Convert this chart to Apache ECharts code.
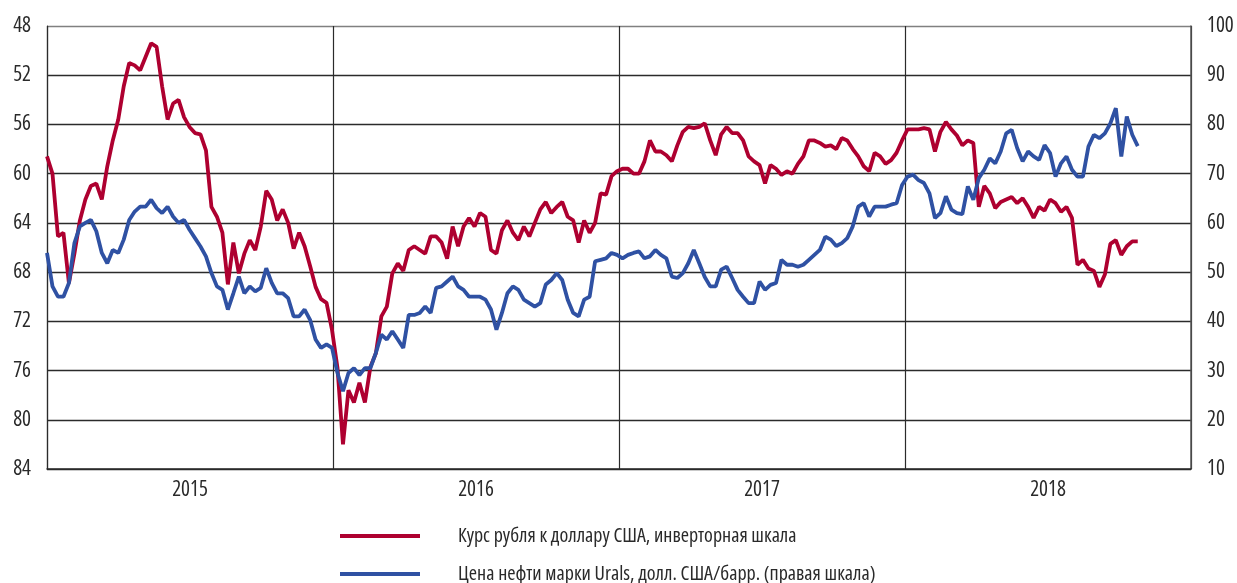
<!DOCTYPE html>
<html>
<head>
<meta charset="utf-8">
<script src="https://cdn.jsdelivr.net/npm/echarts@6/dist/echarts.min.js"></script>
<style>
  html, body { margin: 0; padding: 0; background: #fff; }
  #chart { width: 1237px; height: 583px; }
</style>
</head>
<body>
<div id="chart"></div>
<script>
// weekly observations starting 1 Jan 2015
const startYear = 2015;
const yearLabels = ['2015', '2016', '2017', '2018'];

// курс рубля, руб./долл. (левая шкала, инвертирована)
const rubRate = [
  58.6, 60.0, 65.1, 64.8, 68.9, 66.5, 63.8, 62.1, 61.0, 60.8,
  62.1, 59.4, 57.3, 55.6, 52.9, 51.0, 51.2, 51.6, 50.5, 49.4,
  49.7, 52.9, 55.6, 54.3, 54.0, 55.4, 56.2, 56.7, 56.8, 58.1,
  62.7, 63.5, 64.8, 69.0, 65.6, 68.1, 66.5, 65.4, 66.2, 64.3,
  61.4, 62.1, 63.8, 62.9, 64.0, 66.1, 64.8, 65.9, 67.5, 69.2,
  70.2, 70.5, 72.7,
  75.8, 82.0, 77.6, 78.6, 77.0, 78.6, 75.7, 74.6, 71.6, 70.8,
  68.1, 67.3, 67.9, 66.2, 65.9, 66.2, 66.5, 65.1, 65.1, 65.6,
  66.9, 64.3, 65.9, 64.3, 63.6, 64.3, 63.2, 63.5, 66.2, 66.5,
  64.6, 63.8, 64.8, 65.4, 64.3, 65.1, 64.0, 62.9, 62.3, 63.2,
  62.7, 62.3, 63.5, 63.8, 65.6, 63.8, 64.8, 64.0, 61.6, 61.7,
  60.2, 59.8,
  59.6, 59.6, 60.0, 60.0, 59.0, 57.3, 58.2, 58.2, 58.5, 59.0,
  57.7, 56.6, 56.2, 56.3, 56.2, 55.9, 57.3, 58.5, 56.8, 56.2,
  56.7, 56.7, 57.3, 58.6, 59.0, 59.3, 60.8, 59.3, 59.6, 60.1,
  59.8, 60.0, 59.2, 58.6, 57.3, 57.3, 57.5, 57.8, 57.7, 58.0,
  57.1, 57.3, 58.0, 58.6, 59.4, 59.8, 58.3, 58.6, 59.2, 58.9,
  58.3, 57.3,
  56.4, 56.4, 56.4, 56.3, 56.4, 58.2, 56.6, 55.8, 56.4, 56.9,
  57.7, 57.3, 57.5, 62.7, 61.0, 61.6, 62.8, 62.3, 62.1, 61.9,
  62.4, 62.0, 62.7, 63.6, 62.7, 63.0, 62.1, 62.4, 63.1, 62.7,
  63.6, 67.4, 67.0, 67.7, 67.9, 69.2, 68.2, 65.7, 65.4, 66.6,
  65.9, 65.5, 65.5
];

// Urals, долл./барр. (правая шкала)
const uralsPrice = [
  53.9, 47.1, 45.0, 45.0, 47.8, 55.9, 59.3, 60.0, 60.6, 58.3,
  53.9, 51.8, 54.5, 53.9, 56.6, 60.6, 62.3, 63.3, 63.3, 64.7,
  63.0, 62.0, 63.3, 61.3, 60.0, 60.6, 58.6, 56.9, 55.2, 53.2,
  49.8, 47.1, 46.4, 42.4, 45.7, 49.1, 45.7, 47.1, 46.1, 46.8,
  50.8, 47.8, 45.7, 45.7, 44.7, 41.0, 41.0, 42.4, 40.3, 36.3,
  34.6, 35.3, 34.6,
  29.5, 25.8, 29.5, 30.5, 29.1, 30.5, 30.5, 33.6, 37.3, 36.3,
  38.0, 36.3, 34.6, 41.3, 41.3, 41.7, 43.0, 41.7, 46.8, 47.1,
  48.1, 49.1, 47.1, 46.4, 45.0, 45.0, 45.0, 44.4, 42.4, 38.3,
  41.7, 45.7, 47.1, 46.4, 44.4, 43.7, 43.0, 43.7, 47.5, 48.4,
  49.8, 48.4, 44.4, 41.7, 41.0, 44.4, 45.0, 52.2, 52.5, 52.8,
  53.9, 53.5,
  52.8, 53.5, 53.9, 54.2, 52.8, 53.2, 54.5, 53.5, 52.8, 49.1,
  48.8, 49.8, 51.8, 54.5, 51.8, 49.0, 47.1, 47.1, 50.5, 51.1,
  48.8, 46.4, 45.0, 43.7, 43.7, 48.1, 46.4, 47.4, 47.8, 52.5,
  51.5, 51.5, 51.1, 51.5, 52.5, 53.5, 54.5, 57.2, 56.6, 55.3,
  55.9, 56.9, 59.3, 63.3, 64.0, 61.3, 63.3, 63.3, 63.3, 63.7,
  64.0, 67.7,
  69.4, 69.8, 68.7, 68.1, 66.0, 61.0, 62.0, 65.4, 62.7, 62.0,
  61.8, 67.4, 64.7, 69.1, 70.8, 73.1, 72.1, 74.5, 78.2, 78.9,
  75.2, 72.5, 74.5, 73.5, 72.8, 75.8, 74.2, 69.4, 72.1, 73.5,
  70.8, 69.4, 69.4, 75.5, 77.9, 77.2, 78.2, 80.2, 83.3, 73.5,
  81.6, 77.9, 75.6
];

const rubName = 'Курс рубля к доллару США, инверторная шкала';
const oilName = 'Цена нефти марки Urals, долл. США/барр. (правая шкала)';

// week index -> fractional year
function weekPos(i) {
  return startYear + i * 7 / 365.25;
}

// Open Sans has a width axis, "condensed" goes into the font shorthand via fontWeight
const font = "'Open Sans', sans-serif";
const stretch = 'condensed';
const textColor = '#2a2a2a';
const gridColor = '#2b2b2b';

function legendRow(name, top) {
  return {
    orient: 'horizontal',
    left: 335,
    top: top,
    itemWidth: 80,
    itemHeight: 4,
    icon: 'rect',
    textStyle: {
      fontFamily: font, fontWeight: stretch, fontSize: 20, lineHeight: 20,
      color: textColor, padding: [0, 0, 0, 33]
    },
    data: [name]
  };
}

const tickText = { fontFamily: font, fontWeight: stretch, fontSize: 21, color: textColor };

const chart = echarts.init(document.getElementById('chart'));

chart.setOption({
  animation: false,
  textStyle: { fontFamily: font, fontWeight: stretch, color: textColor },
  grid: { left: 47, right: 46, top: 26, height: 443 },
  legend: [legendRow(rubName, 521), legendRow(oilName, 559)],
  xAxis: [
    {
      type: 'value',
      min: 2015,
      max: 2019,
      interval: 1,
      axisLine: { show: true, lineStyle: { color: gridColor, width: 1.5 } },
      axisTick: { show: false },
      axisLabel: { show: false },
      splitLine: { show: true, lineStyle: { color: gridColor, width: 1.2 } }
    },
    {
      type: 'category',
      position: 'bottom',
      data: yearLabels,
      boundaryGap: true,
      axisLine: { show: false },
      axisTick: { show: false },
      splitLine: { show: false },
      axisLabel: Object.assign({ margin: 11 }, tickText)
    }
  ],
  yAxis: [
    {
      type: 'value',
      position: 'left',
      inverse: true,
      min: 48,
      max: 84,
      interval: 4,
      axisLine: { show: true, lineStyle: { color: gridColor, width: 1.2 } },
      axisTick: { show: false },
      axisLabel: Object.assign({ margin: 16 }, tickText),
      splitLine: {
        show: true,
        lineStyle: {
          color: ['#808080', gridColor, gridColor, gridColor, gridColor, gridColor, gridColor, gridColor, gridColor, gridColor],
          width: 1.4
        }
      }
    },
    {
      type: 'value',
      position: 'right',
      min: 10,
      max: 100,
      interval: 10,
      axisLine: { show: true, lineStyle: { color: '#555', width: 1.5 } },
      axisTick: { show: false },
      axisLabel: Object.assign({ margin: 16 }, tickText),
      splitLine: { show: false }
    }
  ],
  series: [
    {
      name: rubName,
      type: 'line',
      xAxisIndex: 0,
      yAxisIndex: 0,
      showSymbol: false,
      symbol: 'none',
      color: '#AE0030',
      lineStyle: { width: 3.8, color: '#AE0030' },
      data: rubRate.map((v, i) => [weekPos(i), v])
    },
    {
      name: oilName,
      type: 'line',
      xAxisIndex: 0,
      yAxisIndex: 1,
      showSymbol: false,
      symbol: 'none',
      color: '#2F51A3',
      lineStyle: { width: 3.8, color: '#2F51A3' },
      data: uralsPrice.map((v, i) => [weekPos(i), v])
    }
  ]
});
</script>
</body>
</html>
